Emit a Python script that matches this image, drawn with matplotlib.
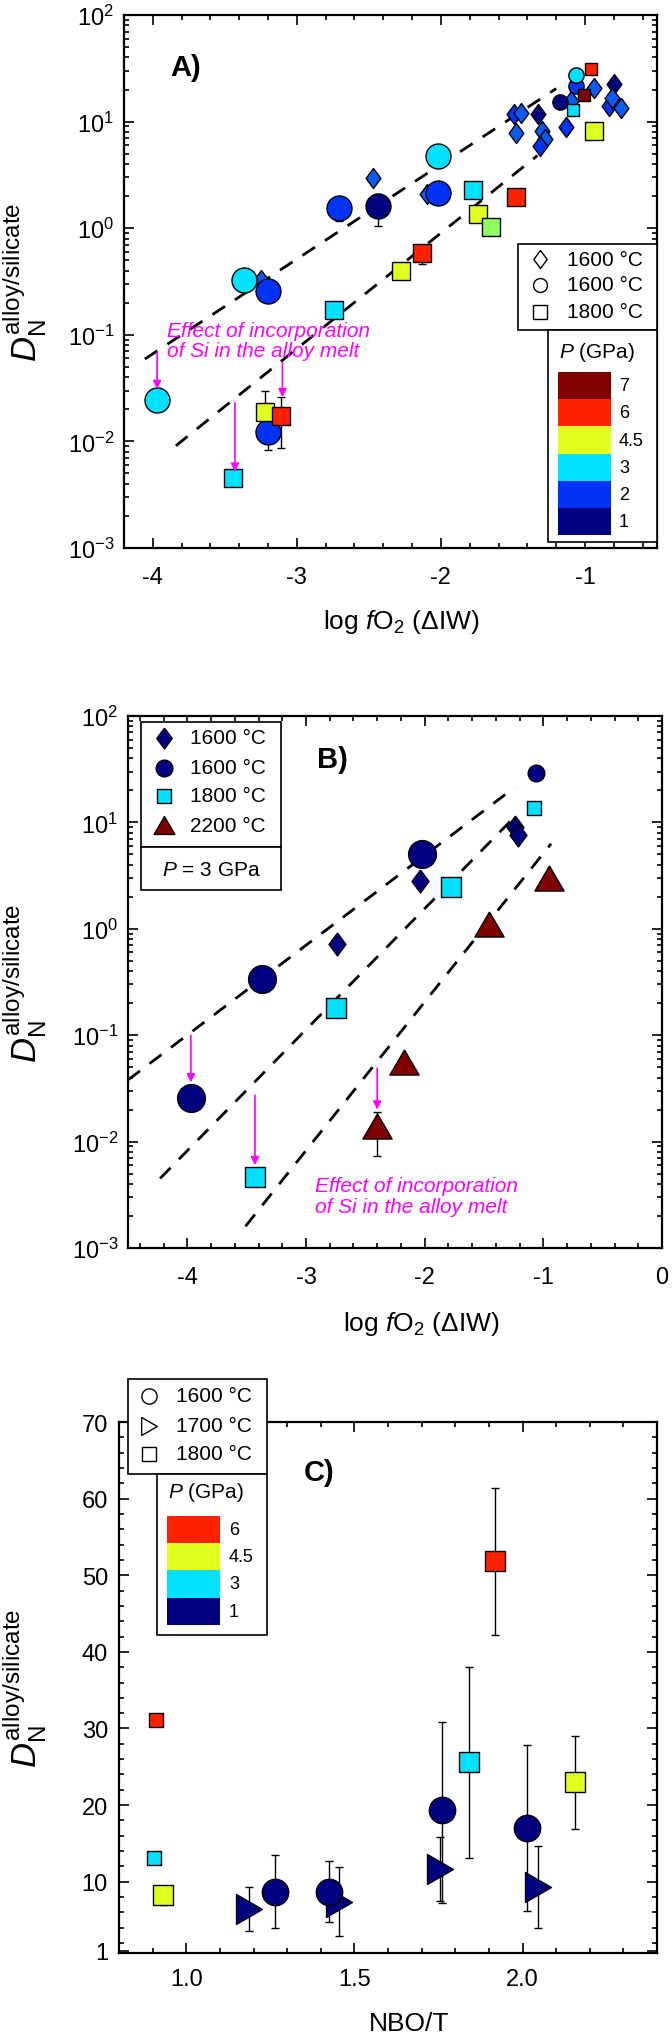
import matplotlib
matplotlib.use('Agg')
import matplotlib.pyplot as plt
from matplotlib.patches import Rectangle
from matplotlib.lines import Line2D
from matplotlib.ticker import LogLocator, MultipleLocator, FixedLocator, NullFormatter, FormatStrFormatter

plt.rcParams['font.family'] = ['Liberation Sans', 'DejaVu Sans']
plt.rcParams['mathtext.fontset'] = 'custom'
plt.rcParams['mathtext.rm'] = 'Liberation Sans'
plt.rcParams['mathtext.it'] = 'Liberation Sans:italic'
plt.rcParams['mathtext.bf'] = 'Liberation Sans:bold'
plt.rcParams['axes.unicode_minus'] = False

# ---------------- data ----------------
P_COLORS = {1: '#000080', 2: '#0033F5', 2.5: '#0A5CF2', 3: '#00E1FF', 4: '#90FF60',
            4.5: '#E1FF1E', 6: '#FF2200', 7: '#800000'}
A_CBAR_P = [7, 6, 4.5, 3, 2, 1]
A_CBAR_LABELS = ['7', '6', '4.5', '3', '2', '1']
C_CBAR_P = [6, 4.5, 3, 1]
C_CBAR_LABELS = ['6', '4.5', '3', '1']

# Panel A (1600 C diamonds, 1600 C circles, 1800 C squares)
A_dia_x = [-2.47, -3.25, -2.10, -1.49, -1.445, -1.48, -1.325, -1.30, -1.28, -1.31, -1.13, -1.10, -0.94, -0.80, -0.83, -0.75, -0.81]
A_dia_y = [2.95, 0.33, 2.1, 11.8, 12.0, 7.8, 11.8, 8.2, 6.9, 5.9, 8.9, 15.5, 20.5, 22.4, 14.1, 13.5, 16.5]
A_dia_p = [2.5, 2.5, 2.5, 2, 2.5, 2.5, 1, 2.5, 2.5, 2, 2, 2.5, 2.5, 1, 2, 2.5, 2.5]

A_cir_x = [-3.97, -3.37, -3.20, -3.20, -2.71, -2.44, -2.02, -2.02, -1.17, -1.06, -1.06]
A_cir_y = [0.0245, 0.33, 0.26, 0.0123, 1.55, 1.6, 4.8, 2.14, 15.4, 21.7, 27.6]
A_cir_p = [3, 3, 2, 2, 2, 1, 3, 2, 1, 2, 3]
A_cir_big = [1, 1, 1, 1, 1, 1, 1, 1, 0, 0, 0]

A_sq_x = [-3.44, -3.22, -3.11, -2.74, -2.28, -2.13, -1.78, -1.745, -1.65, -1.48, -0.94, -1.08, -1.01, -0.96]
A_sq_y = [0.0045, 0.019, 0.0174, 0.17, 0.40, 0.59, 2.3, 1.35, 1.02, 1.95, 8.2, 12.9, 17.8, 30.9]
A_sq_p = [3, 4.5, 6, 3, 4.5, 6, 3, 4.5, 4, 6, 4.5, 3, 7, 6]
A_sq_big = [1, 1, 1, 1, 1, 1, 1, 1, 1, 1, 1, 0, 0, 0]

A_err_x = [-3.20, -2.71, -2.44, -3.22, -3.11, -2.13]
A_err_y = [0.0123, 1.55, 1.6, 0.019, 0.0174, 0.59]
A_err_lo = [0.0083, 1.17, 1.04, 0.019, 0.0087, 0.46]
A_err_hi = [0.0123, 1.55, 2.1, 0.030, 0.026, 0.59]

A_fit1_x = [-4.055, -1.20]
A_fit1_y = [0.0593, 20.4]
A_fit2_x = [-3.84, -1.33]
A_fit2_y = [0.0091, 4.8]

A_arr_x = [-3.97, -3.43, -3.10]
A_arr_y0 = [0.069, 0.023, 0.055]
A_arr_y1 = [0.031, 0.0052, 0.026]

# Panel B (P = 3 GPa)
B_cir_x = [-3.97, -3.37, -2.02, -1.06]
B_cir_y = [0.0257, 0.34, 5.0, 29.0]
B_cir_big = [1, 1, 1, 0]
B_dia_x = [-2.74, -2.04, -1.24, -1.21]
B_dia_y = [0.72, 2.8, 9.1, 7.6]
B_sq_x = [-3.43, -2.745, -1.78, -1.08]
B_sq_y = [0.0046, 0.18, 2.45, 13.6]
B_sq_big = [1, 1, 1, 0]
B_tri_x = [-2.40, -2.17, -1.46, -0.95]
B_tri_y = [0.014, 0.056, 1.1, 3.0]
B_err_x = [-2.40]
B_err_y = [0.014]
B_err_lo = [0.0074]
B_err_hi = [0.019]

B_fit1_x = [-4.50, -1.24]
B_fit1_y = [0.038, 21.4]
B_fit2_x = [-4.23, -1.28]
B_fit2_y = [0.0045, 10.2]
B_fit3_x = [-3.51, -0.935]
B_fit3_y = [0.0016, 6.3]

B_arr_x = [-3.97, -3.43, -2.40]
B_arr_y0 = [0.100, 0.0272, 0.049]
B_arr_y1 = [0.036, 0.0060, 0.020]

# Panel C (NBO/T)
C_cir_x = [1.265, 1.424, 1.761, 2.013]
C_cir_y = [8.7, 8.7, 19.3, 17.0]
C_cir_lo = [3.96, 4.74, 7.2, 6.14]
C_cir_hi = [13.5, 12.7, 30.9, 27.8]
C_tri_x = [1.186, 1.455, 1.754, 2.045]
C_tri_y = [6.4, 7.3, 11.6, 9.27]
C_tri_lo = [3.57, 2.96, 7.5, 3.96]
C_tri_hi = [9.35, 11.9, 15.9, 14.6]
C_sq_x = [0.904, 0.911, 0.931, 1.84, 1.917, 2.156]
C_sq_y = [13.05, 31.1, 8.3, 25.6, 51.9, 22.96]
C_sq_p = [3, 6, 4.5, 3, 6, 4.5]
C_sq_big = [0, 0, 1, 1, 1, 1]
C_sq_lo = [13.05, 31.1, 7.0, 13.05, 42.2, 16.9]
C_sq_hi = [13.05, 31.1, 8.3, 38.0, 61.4, 29.0]

# ---------------- figure ----------------
W, H = 672, 2040
fig = plt.figure(figsize=(W / 100, H / 100), dpi=100)


def fx(x):
    return x / W


def fy(y):
    return 1 - y / H


def add_axes_px(l, t, r, b):
    return fig.add_axes([l / W, 1 - b / H, (r - l) / W, (b - t) / H])


DIAMOND = [(0, 1), (0.74, 0), (0, -1), (-0.74, 0), (0, 1)]
TRI_UP = [(0, 0.86), (1, -0.86), (-1, -0.86), (0, 0.86)]
TRI_RIGHT = [(0.87, 0), (-0.87, 1), (-0.87, -1), (0.87, 0)]
MAG = '#FF00FF'
YLABEL = r'$D_{\mathrm{N}}^{\mathrm{alloy/silicate}}$'
XLABEL_FO2 = r'log $f$O$_{2}$ (ΔIW)'


def style(ax, pad_x, pad_y):
    ax.tick_params(which='both', direction='in', top=True, right=True, width=1.2, labelsize=17)
    ax.tick_params(which='major', length=7)
    ax.tick_params(which='minor', length=3.5)
    ax.tick_params(axis='x', pad=pad_x)
    ax.tick_params(axis='y', pad=pad_y)
    for s in ax.spines.values():
        s.set_linewidth(1.6)


def pts(ax, xs, ys, colors, marker, sizes, z=3):
    for x, y, c, s in zip(xs, ys, colors, sizes):
        ax.plot([x], [y], linestyle='none', marker=marker, ms=s, mfc=c, mec='black',
                mew=1.0, zorder=z)


def errs(ax, xs, ys, lo, hi, z=2):
    for x, y, l, h in zip(xs, ys, lo, hi):
        ax.errorbar([x], [y], yerr=[[y - l], [h - y]], fmt='none', ecolor='black',
                    elinewidth=1.0, capsize=3.2, capthick=1.0, zorder=z)


def dashed(ax, xs, ys):
    ax.plot(xs, ys, color='black', lw=2.0, dashes=(5.4, 4.3), zorder=1)


def arrows(ax, xs, y0s, y1s):
    for x, a, b in zip(xs, y0s, y1s):
        ax.annotate('', xy=(x, b), xytext=(x, a),
                    arrowprops=dict(arrowstyle='-|>', color=MAG, lw=1.2,
                                    mutation_scale=12, shrinkA=0, shrinkB=0), zorder=4)


def fig_rect(l, t, r, b, fc='white', ec='black', lw=1.2, z=5):
    fig.add_artist(Rectangle((fx(l), fy(b)), (r - l) / W, (b - t) / H,
                             transform=fig.transFigure, facecolor=fc, edgecolor=ec,
                             lw=lw, zorder=z))


def fig_marker(x, y, marker, ms, fc='none', z=6):
    fig.add_artist(Line2D([fx(x)], [fy(y)], transform=fig.transFigure, linestyle='none',
                          marker=marker, ms=ms, mfc=fc, mec='black', mew=1.0, zorder=z))


def fig_text(x, y, s, **kw):
    fig.text(fx(x), fy(y), s, transform=fig.transFigure, **kw)


def log_axes(ax):
    ax.set_yscale('log')
    ax.set_ylim(1e-3, 1e2)
    ax.yaxis.set_major_locator(LogLocator(base=10, numticks=10))
    ax.yaxis.set_minor_locator(LogLocator(base=10, subs=range(2, 10), numticks=20))
    ax.yaxis.set_minor_formatter(NullFormatter())


# ---------- Panel A ----------
axA = add_axes_px(124, 16, 657, 549)
log_axes(axA)
axA.set_xlim(-4.2, -0.5)
axA.xaxis.set_major_locator(FixedLocator([-4, -3, -2, -1]))
axA.xaxis.set_minor_locator(MultipleLocator(0.2))
axA.xaxis.set_major_formatter(FormatStrFormatter('%d'))
style(axA, 13, 7)

dashed(axA, A_fit1_x, A_fit1_y)
dashed(axA, A_fit2_x, A_fit2_y)
errs(axA, A_err_x, A_err_y, A_err_lo, A_err_hi)
pts(axA, A_dia_x, A_dia_y, [P_COLORS[p] for p in A_dia_p], DIAMOND, [14.4] * len(A_dia_x))
pts(axA, A_cir_x, A_cir_y, [P_COLORS[p] for p in A_cir_p], 'o',
    [18 if b else 11 for b in A_cir_big])
pts(axA, A_sq_x, A_sq_y, [P_COLORS[p] for p in A_sq_p], 's',
    [13.5 if b else 9 for b in A_sq_big])
arrows(axA, A_arr_x, A_arr_y0, A_arr_y1)
axA.text(-3.9, 0.135, 'Effect of incorporation\nof Si in the alloy melt', color=MAG,
         fontsize=15, style='italic', ha='left', va='top', linespacing=1.1)
axA.set_ylabel(YLABEL, fontsize=25)
axA.yaxis.set_label_coords(-0.14, 0.5)
axA.set_xlabel(XLABEL_FO2, fontsize=19)
axA.xaxis.set_label_coords(0.52, -0.11)
fig_text(186, 68, 'A)', fontsize=21, fontweight='bold', ha='center', va='center')

# legend A
fig_rect(518, 245, 657, 331)
fig_marker(540, 260, DIAMOND, 13)
fig_marker(540, 286, 'o', 10)
fig_marker(540, 313, 's', 9.5)
for yy, t in zip([260, 286, 313], ['1600 °C', '1600 °C', '1800 °C']):
    fig_text(567, yy, t, fontsize=15, ha='left', va='center', zorder=7)
fig_rect(548, 331, 657, 543)
fig_text(597, 353, r'$P$ (GPa)', fontsize=15, ha='center', va='center', zorder=7)
cb_top, cb_h = 373, 27.2
for i, (p, lab) in enumerate(zip(A_CBAR_P, A_CBAR_LABELS)):
    t = cb_top + i * cb_h
    fig_rect(558, t, 611, t + cb_h, fc=P_COLORS[p], ec='none', lw=0, z=6)
    fig_text(619, t + cb_h / 2, lab, fontsize=13, ha='left', va='center', zorder=7)

# ---------- Panel B ----------
axB = add_axes_px(128, 717, 662, 1249)
log_axes(axB)
axB.set_xlim(-4.5, 0)
axB.xaxis.set_major_locator(FixedLocator([-4, -3, -2, -1, 0]))
axB.xaxis.set_minor_locator(MultipleLocator(0.2))
axB.xaxis.set_major_formatter(FormatStrFormatter('%d'))
style(axB, 13, 7)

dashed(axB, B_fit1_x, B_fit1_y)
dashed(axB, B_fit2_x, B_fit2_y)
dashed(axB, B_fit3_x, B_fit3_y)
errs(axB, B_err_x, B_err_y, B_err_lo, B_err_hi)
pts(axB, B_dia_x, B_dia_y, [P_COLORS[1]] * 4, DIAMOND, [16.5] * 4)
pts(axB, B_cir_x, B_cir_y, [P_COLORS[1]] * 4, 'o', [20 if b else 12 for b in B_cir_big])
pts(axB, B_sq_x, B_sq_y, [P_COLORS[3]] * 4, 's', [14.5 if b else 9.5 for b in B_sq_big])
pts(axB, B_tri_x, B_tri_y, [P_COLORS[7]] * 4, TRI_UP, [21] * 4)
arrows(axB, B_arr_x, B_arr_y0, B_arr_y1)
axB.text(-2.92, 0.0047, 'Effect of incorporation\nof Si in the alloy melt', color=MAG,
         fontsize=15, style='italic', ha='left', va='top', linespacing=1.1)
axB.set_ylabel(YLABEL, fontsize=25)
axB.yaxis.set_label_coords(-0.148, 0.5)
axB.set_xlabel(XLABEL_FO2, fontsize=19)
axB.xaxis.set_label_coords(0.55, -0.115)
fig_text(332, 760, 'B)', fontsize=21, fontweight='bold', ha='center', va='center')

# legend B
fig_rect(141, 723, 281, 848)
fig_rect(141, 848, 281, 891)
for yy, mk, ms, c, t in zip([739, 769, 797, 826],
                             [DIAMOND, 'o', 's', TRI_UP],
                             [15, 12, 10, 15],
                             [P_COLORS[1], P_COLORS[1], P_COLORS[3], P_COLORS[7]],
                             ['1600 °C', '1600 °C', '1800 °C', '2200 °C']):
    fig_marker(164, yy, mk, ms, fc=c)
    fig_text(190, yy, t, fontsize=15, ha='left', va='center', zorder=7)
fig_text(211, 870, r'$P$ = 3 GPa', fontsize=15, ha='center', va='center', zorder=7)

# ---------- Panel C ----------
axC = add_axes_px(119, 1423, 657, 1954)
axC.set_xlim(0.8, 2.4)
axC.set_ylim(0.7, 70)
axC.xaxis.set_major_locator(FixedLocator([1.0, 1.5, 2.0]))
axC.xaxis.set_minor_locator(MultipleLocator(0.1))
axC.xaxis.set_major_formatter(FormatStrFormatter('%.1f'))
axC.yaxis.set_major_locator(FixedLocator([1, 10, 20, 30, 40, 50, 60, 70]))
axC.yaxis.set_minor_locator(MultipleLocator(2))
style(axC, 11, 8)

errs(axC, C_cir_x, C_cir_y, C_cir_lo, C_cir_hi)
errs(axC, C_tri_x, C_tri_y, C_tri_lo, C_tri_hi)
errs(axC, C_sq_x, C_sq_y, C_sq_lo, C_sq_hi)
pts(axC, C_tri_x, C_tri_y, [P_COLORS[1]] * 4, TRI_RIGHT, [21.5] * 4)
pts(axC, C_cir_x, C_cir_y, [P_COLORS[1]] * 4, 'o', [19] * 4)
pts(axC, C_sq_x, C_sq_y, [P_COLORS[p] for p in C_sq_p], 's',
    [14.5 if b else 9.5 for b in C_sq_big])
axC.set_ylabel(YLABEL, fontsize=25)
axC.yaxis.set_label_coords(-0.13, 0.5)
axC.set_xlabel('NBO/T', fontsize=19)
axC.xaxis.set_label_coords(0.54, -0.11)
fig_text(319, 1473, 'C)', fontsize=21, fontweight='bold', ha='center', va='center')

# legend C
fig_rect(128, 1380, 267, 1475)
fig_marker(149, 1397, 'o', 11)
fig_marker(149, 1427, TRI_RIGHT, 13)
fig_marker(149, 1455, 's', 10)
for yy, t in zip([1397, 1427, 1455], ['1600 °C', '1700 °C', '1800 °C']):
    fig_text(176, yy, t, fontsize=15, ha='left', va='center', zorder=7)
fig_rect(157, 1475, 267, 1636)
fig_text(206, 1493, r'$P$ (GPa)', fontsize=15, ha='center', va='center', zorder=7)
cb_top, cb_h = 1517, 27.2
for i, (p, lab) in enumerate(zip(C_CBAR_P, C_CBAR_LABELS)):
    t = cb_top + i * cb_h
    fig_rect(167, t, 220, t + cb_h, fc=P_COLORS[p], ec='none', lw=0, z=6)
    fig_text(229, t + cb_h / 2, lab, fontsize=13, ha='left', va='center', zorder=7)

fig.savefig('out.png', dpi=100)
